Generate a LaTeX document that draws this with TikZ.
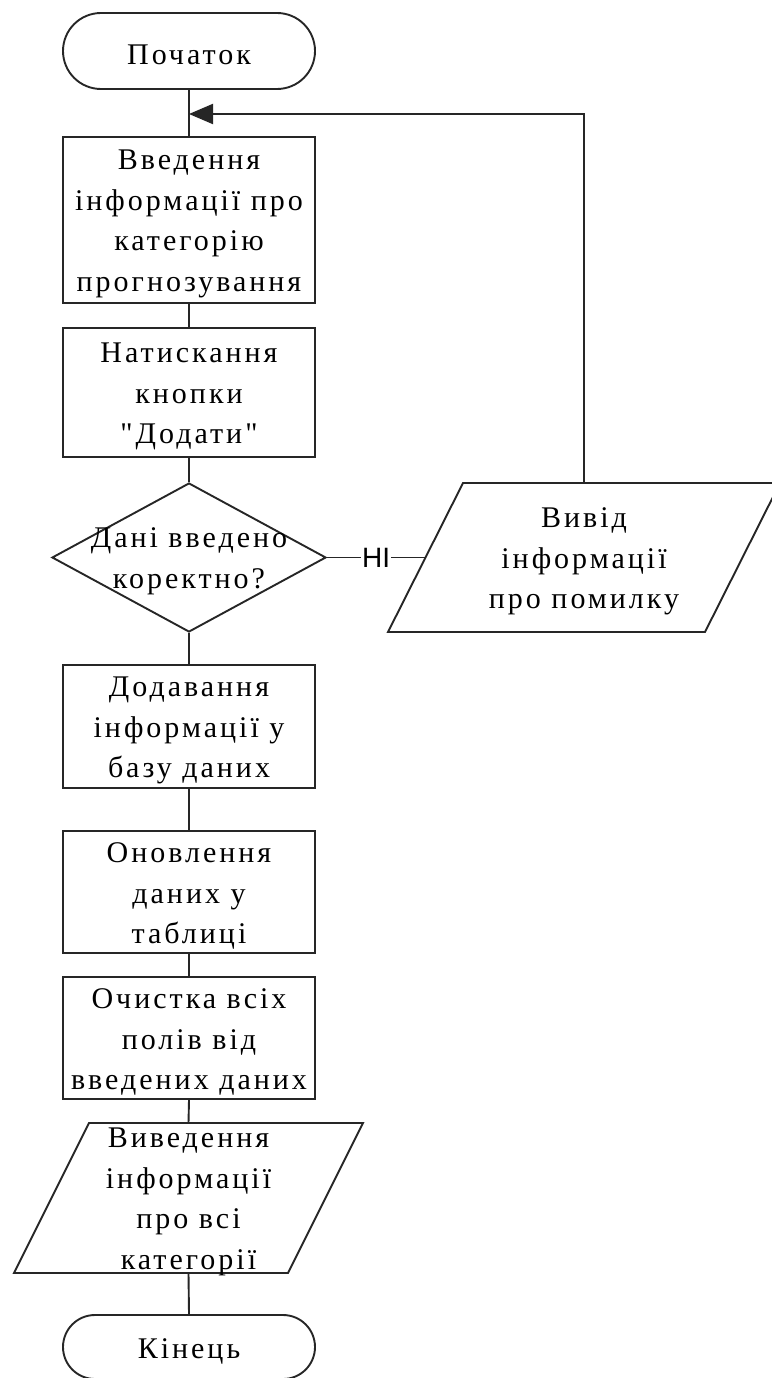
\documentclass[tikz,border=0pt]{standalone}
\usepackage{fontspec}
\setmainfont{Liberation Serif}[Ligatures=TeXOff, LetterSpace=10]
\newfontfamily\labelfont{Liberation Sans}
\usetikzlibrary{shapes.geometric,arrows.meta,calc}
\begin{document}
\begin{tikzpicture}[x=1pt,y=-1pt,
  line/.style={draw=black!85, line width=1.9pt},
  term/.style={line, rectangle, rounded corners=#1, minimum width=252pt,
    minimum height=2*#1, inner sep=0pt},
  proc/.style={line, rectangle, minimum width=252pt, inner sep=0pt},
  decision/.style={line, diamond, minimum width=274pt, minimum height=149pt, inner sep=0pt},
  txt/.style={align=center, inner sep=0pt, yshift=-4pt, font=\fontsize{30}{40.5}\selectfont},
  flow/.style={line},
  tag/.style={fill=white, inner sep=1pt, font=\labelfont\fontsize{28}{28}\selectfont}
]
\useasboundingbox (0,0) rectangle (771,1378);

% terminals and process blocks
\node[term=38pt] (start) at (189,51) {};
\node[txt] (startT) at (start) {Початок};

\node[proc, minimum height=166pt] (input) at (189,220) {};
\node[txt] (inputT) at (input) {Введення\\інформації про\\категорію\\прогнозування};

\node[proc, minimum height=129pt] (press) at (189,392.5) {};
\node[txt] (pressT) at (press) {Натискання\\кнопки\\"Додати"};

\node[decision] (dec) at (189,557.5) {};
\node[txt] (decT) at (dec) {Дані введено\\коректно?};

\node[proc, minimum height=123pt] (add) at (189,726.5) {};
\node[txt] (addT) at (add) {Додавання\\інформації у\\базу даних};

\node[proc, minimum height=122pt] (upd) at (189,892) {};
\node[txt] (updT) at (upd) {Оновлення\\даних у\\таблиці};

\node[proc, minimum height=122pt] (clr) at (189,1038) {};
\node[txt] (clrT) at (clr) {Очистка всіх\\полів від\\введених даних};

% error output parallelogram
\coordinate (err) at (584,557.5);
\draw[line] ($(err)+(-121,-74.5)$) -- ($(err)+(196,-74.5)$) -- ($(err)+(121,74.5)$)
  -- ($(err)+(-196,74.5)$) -- cycle;
\node[txt] (errT) at (err) {Вивід\\інформації\\про помилку};
\coordinate (errN) at ($(err)+(0,-74.5)$);
\coordinate (errW) at ($(err)+(-158.5,0)$);

% output of all categories
\coordinate (show) at (188.5,1198);
\draw[line] ($(show)+(-99.5,-75)$) -- ($(show)+(174.5,-75)$) -- ($(show)+(99.5,75)$)
  -- ($(show)+(-174.5,75)$) -- cycle;
\node[txt] (showT) at (show) {Виведення\\інформації\\про всі\\категорії};
\coordinate (showN) at ($(show)+(0,-75)$);
\coordinate (showS) at ($(show)+(0,75)$);

\node[term=32pt] (end) at (189,1347) {};
\node[txt] (endT) at (end) {Кінець};

% connectors
\coordinate (join) at (189,114);
\draw[flow] (start.south) -- (input.north);
\draw[flow] (input.south) -- (press.north);
\draw[flow] (press.south) -- (dec.north);
\draw[flow] (dec.south) -- (add.north);
\draw[flow] (add.south) -- (upd.north);
\draw[flow] (upd.south) -- (clr.north);
\draw[flow] (clr.south) -- (showN);
\draw[flow] (showS) -- (end.north);
\draw[flow] (dec.east) -- node[tag] (no) {НІ} (errW);
\draw[flow, -{Triangle[length=24pt,width=20pt]}] (errN) |- (join);
\end{tikzpicture}
\end{document}
